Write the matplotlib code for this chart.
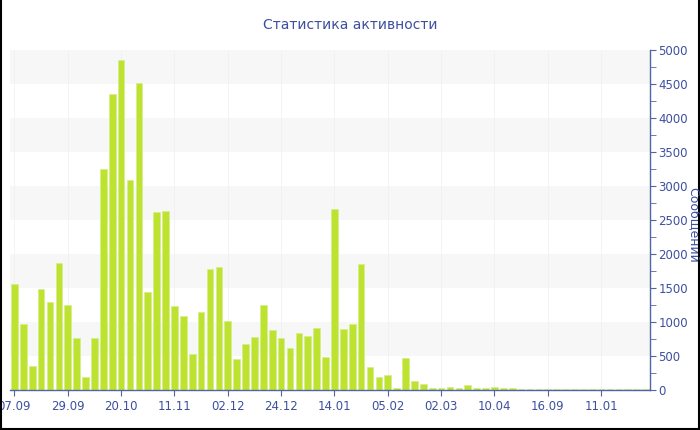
import matplotlib
matplotlib.use('Agg')
import matplotlib.pyplot as plt
from matplotlib.lines import Line2D
import numpy as np

# weekly message counts
values = [1554, 975, 358, 1480, 1299, 1868, 1245, 760, 186, 760,
          3250, 4353, 4848, 3093, 4520, 1441, 2613, 2627, 1235, 1088,
          525, 1152, 1784, 1814, 1015, 461, 681, 775, 1255, 882,
          760, 618, 833, 789, 912, 485, 2662, 902, 971, 1848,
          338, 191, 225, 25, 471, 137, 88, 25, 29, 44,
          29, 74, 29, 34, 44, 29, 25, 15, 12, 14,
          12, 10, 18, 14, 12, 10, 12, 10, 12, 10,
          10, 12]
tick_labels = ['07.09', '29.09', '20.10', '11.11', '02.12', '24.12',
               '14.01', '05.02', '02.03', '10.04', '16.09', '11.01']
tick_every = 6

title = 'Статистика активности'
ylabel = 'Сообщений'

text_col = '#3d4f9e'
axis_col = '#5064a8'
bar_col = '#bde22f'

x = np.arange(len(values))

fig = plt.figure(figsize=(7, 4.3), dpi=100)
ax = fig.add_axes([10/700, 40/430, 640/700, 340/430])

# alternating background bands
for lo in range(500, 5000, 1000):
    ax.axhspan(lo, lo + 500, color='#f7f7f7', lw=0, zorder=0)
for t in x[::tick_every]:
    ax.axvline(t, color='#f1f1f1', lw=0.6, zorder=0.5)

ax.bar(x, values, width=0.75, color=bar_col, edgecolor='#d6ee88',
       linewidth=0.5, zorder=2)

ax.set_xlim(-0.5, len(values) - 0.5)
ax.set_ylim(0, 5000)

ax.yaxis.tick_right()
ax.set_yticks(np.arange(0, 5001, 500))
ax.set_yticks(np.arange(0, 5001, 250), minor=True)
ax.set_xticks(x[::tick_every])
ax.set_xticklabels(tick_labels)

for s in ['top', 'left']:
    ax.spines[s].set_visible(False)
for s in ['right', 'bottom']:
    ax.spines[s].set_color(axis_col)
    ax.spines[s].set_linewidth(1.0)

ax.tick_params(axis='both', which='both', direction='out', length=4,
               color=axis_col, labelcolor=text_col, labelsize=8.5, pad=2)
ax.tick_params(axis='x', pad=3)

fig.text(350/700, 1 - 25/430, title, ha='center', va='center',
         fontsize=10, color=text_col)
fig.text(693/700, 1 - 225/430, ylabel, ha='center', va='center',
         rotation=270, fontsize=9, color=text_col)

# frame around the picture
for xs, ys in [([0.001, 0.001], [0, 1]), ([0.999, 0.999], [0, 1]),
               ([0, 1], [0.002, 0.002])]:
    fig.add_artist(Line2D(xs, ys, color='black', lw=1.5,
                          transform=fig.transFigure))

fig.savefig('out.png', dpi=100, facecolor='white')
